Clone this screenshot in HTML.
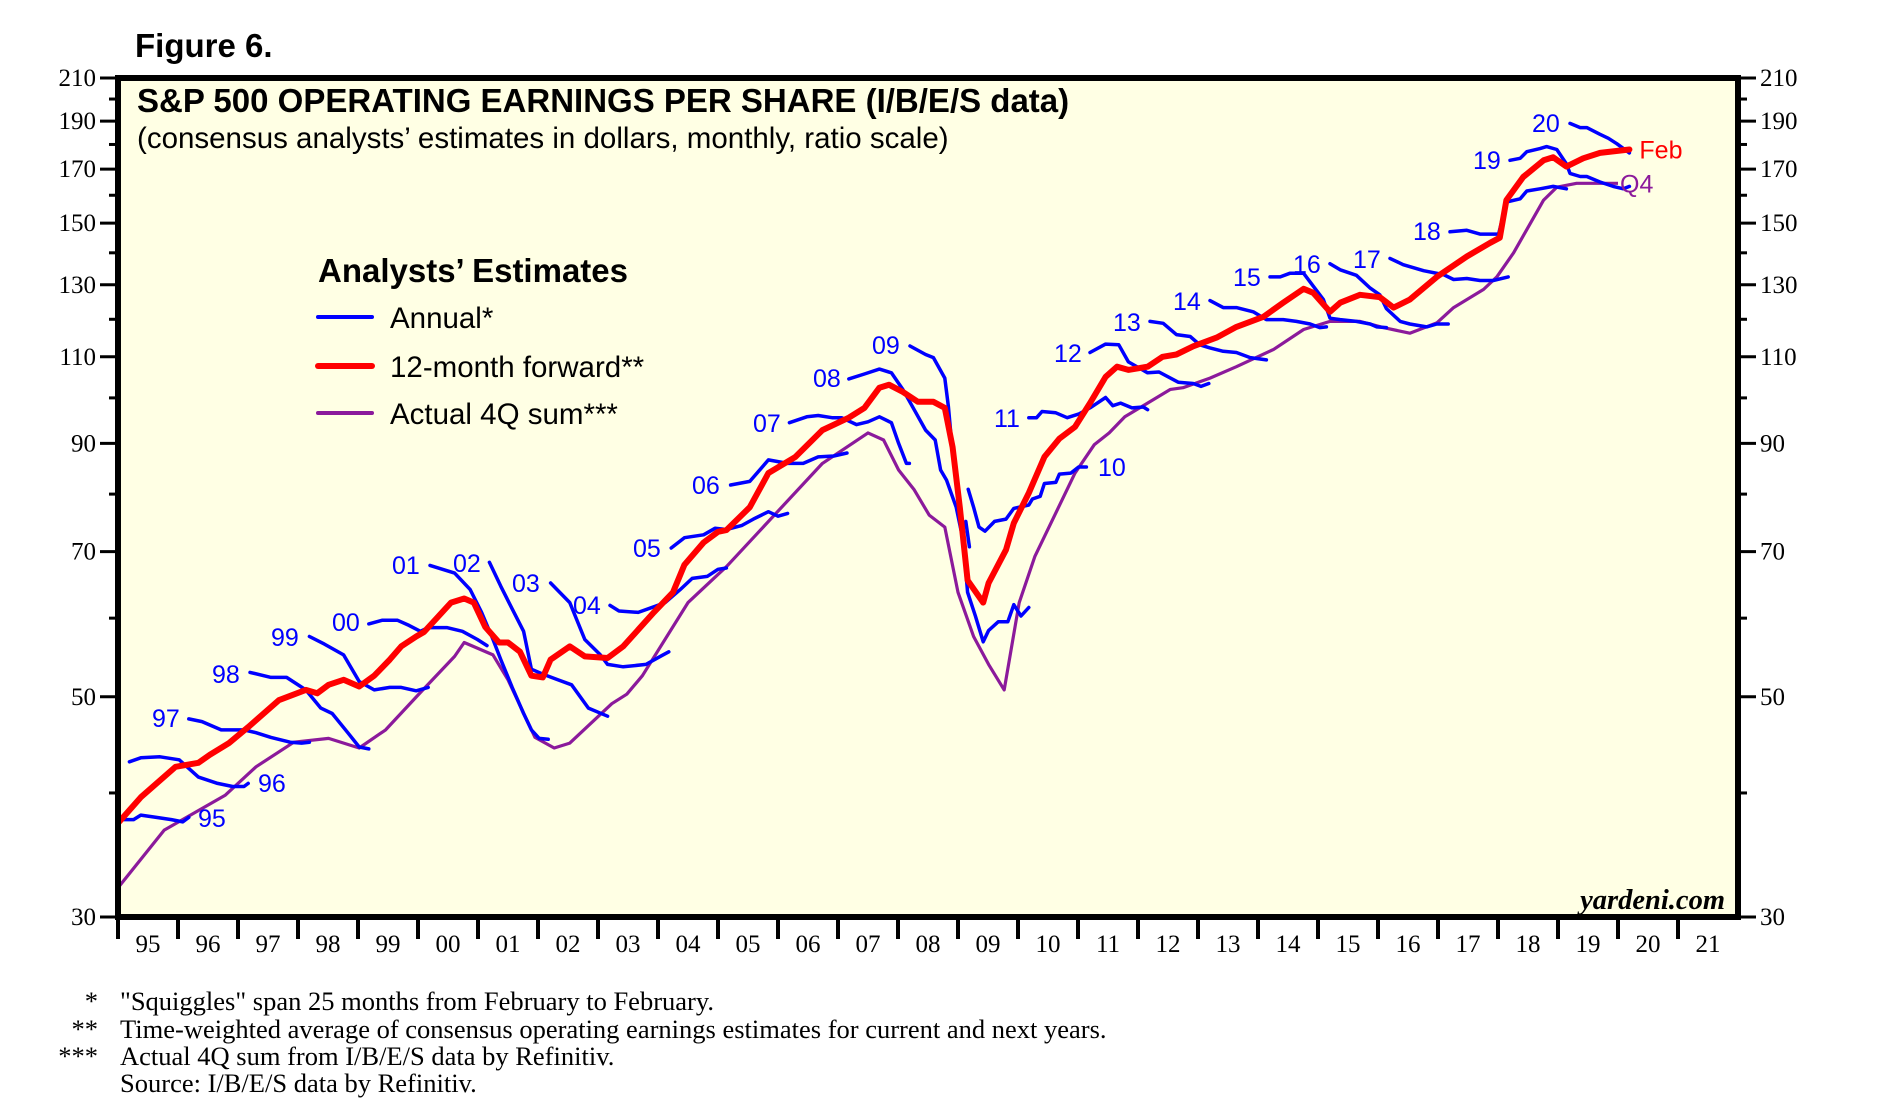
<!DOCTYPE html>
<html><head><meta charset="utf-8"><style>
html,body{margin:0;padding:0;background:#fff;}
svg{display:block;}
.ax{font-family:"Liberation Serif",serif;font-size:25px;fill:#000;}
.sq{font-family:"Liberation Sans",sans-serif;font-size:25px;fill:#0000ff;}
</style></head><body>
<svg id="chart" width="1888" height="1111" viewBox="0 0 1888 1111" xmlns="http://www.w3.org/2000/svg">
<text x="135" y="57" font-family="Liberation Sans,sans-serif" font-weight="bold" font-size="33">Figure 6.</text>
<rect x="118" y="78" width="1620" height="839" fill="#ffffe4"/>
<g id="marks"></g>
<rect x="118" y="78" width="1620" height="839" fill="none" stroke="#000" stroke-width="6"/>
<g id="axes"></g>
<text x="137" y="112" font-family="Liberation Sans,sans-serif" font-weight="bold" font-size="33">S&amp;P 500 OPERATING EARNINGS PER SHARE (I/B/E/S data)</text>
<text x="137" y="148" font-family="Liberation Sans,sans-serif" font-size="29.5">(consensus analysts’ estimates in dollars, monthly, ratio scale)</text>
<g font-family="Liberation Sans,sans-serif">
<text x="318" y="282" font-weight="bold" font-size="33">Analysts’ Estimates</text>
<line x1="318" y1="317" x2="372" y2="317" stroke="#0000ff" stroke-width="4" stroke-linecap="round"/>
<text x="390" y="328" font-size="29.5">Annual*</text>
<line x1="318" y1="366" x2="372" y2="366" stroke="#ff0000" stroke-width="6" stroke-linecap="round"/>
<text x="390" y="377" font-size="29.5">12-month forward**</text>
<line x1="318" y1="413" x2="372" y2="413" stroke="#8b1a9b" stroke-width="4" stroke-linecap="round"/>
<text x="390" y="424" font-size="29.5">Actual 4Q sum***</text>
</g>
<text x="1725" y="909" text-anchor="end" font-family="Liberation Serif,serif" font-weight="bold" font-style="italic" font-size="28.5">yardeni.com</text>
<g font-family="Liberation Serif,serif" font-size="26.5">
<text x="98" y="1010" text-anchor="end">*</text>
<text x="120" y="1010">"Squiggles" span 25 months from February to February.</text>
<text x="98" y="1038" text-anchor="end">**</text>
<text x="120" y="1038">Time-weighted average of consensus operating earnings estimates for current and next years.</text>
<text x="98" y="1065" text-anchor="end">***</text>
<text x="120" y="1065">Actual 4Q sum from I/B/E/S data by Refinitiv.</text>
<text x="120" y="1092">Source: I/B/E/S data by Refinitiv.</text>
</g>
</svg>
<script>
const yTicks=[30,50,70,90,110,130,150,170,190,210];
const yMinor=[40,60,80,100,120,140,160,180,200];
const yearLabels=["95","96","97","98","99","00","01","02","03","04","05","06","07","08","09","10","11","12","13","14","15","16","17","18","19","20","21"];
const forward=[[1995.0,37.3],[1995.38,39.6],[1995.96,42.5],[1996.34,42.9],[1996.53,43.7],[1996.85,44.9],[1997.17,46.6],[1997.68,49.6],[1998.13,50.8],[1998.32,50.4],[1998.51,51.4],[1998.76,52.0],[1999.02,51.2],[1999.27,52.5],[1999.53,54.5],[1999.72,56.2],[1999.97,57.5],[2000.1,58.1],[2000.29,59.8],[2000.55,62.2],[2000.77,62.8],[2000.93,62.2],[2001.12,58.8],[2001.35,56.7],[2001.5,56.7],[2001.7,55.5],[2001.89,52.5],[2002.08,52.3],[2002.21,54.5],[2002.53,56.2],[2002.78,54.9],[2003.16,54.7],[2003.42,56.2],[2003.93,60.8],[2004.25,63.7],[2004.44,67.9],[2004.76,71.5],[2005.0,73.3],[2005.14,73.6],[2005.53,77.6],[2005.84,84.0],[2006.29,87.2],[2006.74,92.8],[2007.18,95.5],[2007.44,97.7],[2007.69,102.4],[2007.85,103.1],[2008.08,101.4],[2008.33,99.1],[2008.59,99.1],[2008.78,97.7],[2008.91,89.2],[2009.03,77.6],[2009.16,65.5],[2009.42,62.2],[2009.51,65.1],[2009.8,70.3],[2009.93,74.8],[2010.18,80.2],[2010.44,87.2],[2010.69,91],[2010.95,93.5],[2011.2,98.8],[2011.46,105],[2011.65,107.5],[2011.84,106.7],[2012.16,107.5],[2012.41,110],[2012.64,110.6],[2012.92,112.7],[2013.31,115],[2013.64,117.9],[2014.09,120.7],[2014.42,124.7],[2014.76,128.8],[2014.92,127.6],[2015.2,122.1],[2015.37,124.7],[2015.7,127],[2016.03,126.3],[2016.26,123.3],[2016.53,125.6],[2016.98,132.4],[2017.48,138.8],[2017.87,143.3],[2018.03,145],[2018.14,158.2],[2018.42,166.9],[2018.76,173.5],[2018.92,174.7],[2019.14,171],[2019.42,174.3],[2019.7,176.5],[2020.19,177.9]];
const actual=[[1995.0,32.1],[1995.77,36.7],[1996.79,39.8],[1997.30,42.5],[1997.93,45.0],[1998.51,45.4],[1999.02,44.4],[1999.46,46.3],[2000.04,50.5],[2000.61,54.9],[2000.77,56.7],[2001.25,55.1],[2001.5,52.0],[2001.95,45.5],[2002.27,44.4],[2002.53,44.9],[2003.23,49.2],[2003.48,50.3],[2003.74,52.5],[2004.5,62.2],[2005.0,66.4],[2005.14,67.6],[2006.74,85.9],[2007.5,92.2],[2007.76,90.7],[2008.01,84.6],[2008.27,80.8],[2008.52,76.2],[2008.78,74.1],[2009.0,63.7],[2009.26,57.5],[2009.51,53.9],[2009.77,50.8],[2010.02,62.2],[2010.28,69.2],[2010.95,84],[2011.27,89.7],[2011.52,92.2],[2011.78,95.7],[2012.54,102],[2012.75,102.4],[2013.2,104.7],[2013.64,107.5],[2014.26,111.9],[2014.76,117.2],[2015.2,119.4],[2015.7,119.4],[2016.09,117.7],[2016.53,116.2],[2016.98,119],[2017.26,123.3],[2017.76,128.6],[2017.98,132.4],[2018.26,140],[2018.76,158.2],[2018.98,163],[2019.31,164.5],[2019.7,164.5],[2020.0,164.5]];
const sq95=[[1995.0,37.6],[1995.26,37.6],[1995.38,38],[1995.64,37.8],[1995.89,37.6],[1996.08,37.4],[1996.18,37.8]];
const sq96=[[1995.19,43],[1995.38,43.4],[1995.7,43.5],[1996.02,43.2],[1996.34,41.5],[1996.66,40.9],[1996.91,40.6],[1997.1,40.6],[1997.17,40.9]];
const sq97=[[1996.18,47.5],[1996.4,47.2],[1996.72,46.3],[1997.1,46.3],[1997.3,46],[1997.55,45.5],[1997.87,45],[1998.06,44.9],[1998.19,45]];
const sq98=[[1997.2,52.9],[1997.55,52.3],[1997.81,52.3],[1998.13,50.8],[1998.38,48.7],[1998.57,48.1],[1998.83,46],[1999.02,44.5],[1999.18,44.3]];
const sq99=[[1998.19,57.5],[1998.44,56.5],[1998.76,55.1],[1999.02,51.8],[1999.27,50.8],[1999.53,51.1],[1999.72,51.1],[1999.97,50.7],[2000.17,51.1]];
const sq00=[[1999.18,59.2],[1999.4,59.7],[1999.66,59.7],[1999.85,59],[2000.04,58.2],[2000.17,58.7],[2000.48,58.7],[2000.74,58.2],[2000.99,57.1],[2001.15,56.3]];
const sq01=[[2000.2,67.8],[2000.61,66.6],[2000.87,64.1],[2001.06,60.8],[2001.25,57.1],[2001.38,54.5],[2001.57,51.1],[2001.76,48.1],[2001.89,46.3],[2002.02,45.4],[2002.17,45.3]];
const sq02=[[2001.19,68.3],[2001.38,64.6],[2001.57,61.3],[2001.76,58.2],[2001.89,53.3],[2002.08,52.7],[2002.33,52],[2002.56,51.4],[2002.84,48.7],[2003.16,47.8]];
const sq03=[[2002.21,65.1],[2002.53,62.2],[2002.78,57.1],[2003.04,55.1],[2003.16,53.9],[2003.42,53.6],[2003.8,53.9],[2004.06,55],[2004.18,55.5]];
const sq04=[[2003.2,61.8],[2003.35,61],[2003.67,60.8],[2003.93,61.6],[2004.12,62.2],[2004.37,64.1],[2004.57,65.8],[2004.82,66.1],[2005.0,67.2],[2005.14,67.4]];
const sq05=[[2004.22,70.6],[2004.44,72.3],[2004.76,72.8],[2004.95,73.9],[2005.14,73.7],[2005.4,74.4],[2005.59,75.5],[2005.84,76.8],[2006.0,76],[2006.16,76.5]];
const sq06=[[2005.21,81.7],[2005.53,82.4],[2005.84,86.6],[2006.16,85.9],[2006.42,85.9],[2006.67,87.2],[2006.93,87.4],[2007.15,88]];
const sq07=[[2006.19,94.4],[2006.48,95.7],[2006.67,96],[2006.9,95.5],[2007.06,95.5],[2007.31,94],[2007.5,94.6],[2007.69,95.7],[2007.89,94.4],[2008.01,90],[2008.14,85.9],[2008.19,85.9]];
const sq08=[[2007.18,104.5],[2007.44,105.7],[2007.69,106.9],[2007.89,106],[2008.08,102],[2008.27,97.3],[2008.46,92.8],[2008.62,90.7],[2008.71,84.6],[2008.81,82.6],[2008.97,77.6],[2009.05,73.6],[2009.13,75.1],[2009.19,70.8]];
const sq09=[[2008.2,112.8],[2008.46,110.6],[2008.59,109.8],[2008.78,104.7],[2008.84,98],[2008.91,88],[2009.03,78.5],[2009.16,63.7],[2009.29,60.3],[2009.42,56.8],[2009.51,58.3],[2009.67,59.5],[2009.83,59.5],[2009.93,61.9],[2010.05,60.3],[2010.18,61.5]];
const sq10=[[2009.17,80.9],[2009.26,77.6],[2009.35,74.1],[2009.45,73.4],[2009.61,75.1],[2009.8,75.5],[2009.93,77.4],[2010.18,78],[2010.24,79.1],[2010.37,79.6],[2010.44,82],[2010.63,82.2],[2010.69,83.8],[2010.88,84],[2011.01,85.2],[2011.14,85.2]];
const sq11=[[2010.18,95.5],[2010.31,95.5],[2010.4,96.9],[2010.63,96.6],[2010.82,95.5],[2011.01,96.3],[2011.2,97.7],[2011.46,100.1],[2011.58,98.2],[2011.71,98.8],[2011.9,97.7],[2012.09,97.9],[2012.16,97.3]];
const sq12=[[2011.2,111.1],[2011.46,113.3],[2011.68,113.1],[2011.84,108.7],[2012.16,106],[2012.35,106.2],[2012.67,103.7],[2012.92,103.4],[2013.05,102.7],[2013.18,103.4]];
const sq13=[[2012.2,119.4],[2012.42,118.9],[2012.64,115.8],[2012.87,115.3],[2013.03,113.1],[2013.2,112.3],[2013.42,111.4],[2013.64,111.1],[2013.87,109.8],[2014.14,109.2]];
const sq14=[[2013.2,125.3],[2013.42,123.3],[2013.64,123.3],[2013.92,122.1],[2014.14,119.9],[2014.42,119.9],[2014.64,119.4],[2014.87,118.7],[2015.03,117.7],[2015.14,117.9]];
const sq15=[[2014.2,132.4],[2014.37,132.4],[2014.53,133.5],[2014.76,133.5],[2014.92,129.6],[2015.09,125.6],[2015.2,120.3],[2015.37,119.9],[2015.64,119.4],[2015.87,118.7],[2015.98,117.9],[2016.14,117.7]];
const sq16=[[2015.2,136.5],[2015.37,134.6],[2015.64,132.9],[2015.87,129],[2016.03,127],[2016.14,123],[2016.37,119.4],[2016.53,118.7],[2016.81,117.9],[2016.98,118.7],[2017.17,118.7]];
const sq17=[[2016.2,138.2],[2016.42,136.2],[2016.76,134.3],[2017.09,133.1],[2017.26,131.6],[2017.48,131.9],[2017.7,131.3],[2017.92,131.3],[2018.17,132.4]];
const sq18=[[2017.2,147],[2017.48,147.5],[2017.7,146.2],[2018.01,146.2],[2018.14,157.5],[2018.37,158.7],[2018.48,161.6],[2018.7,162.4],[2018.92,163.3],[2019.14,162.4]];
const sq19=[[2018.2,173.5],[2018.37,174.3],[2018.48,177],[2018.7,178.3],[2018.81,179.1],[2018.98,177.9],[2019.14,172.1],[2019.2,168.3],[2019.37,167.1],[2019.48,167.1],[2019.7,165],[2019.92,163.3],[2020.09,162.4],[2020.19,163.3]];
const sq20=[[2019.2,189],[2019.37,187.2],[2019.48,187.2],[2019.7,184.3],[2019.84,182.6],[2019.98,180.3],[2020.19,176.5]];
const squiggles=[sq95,sq96,sq97,sq98,sq99,sq00,sq01,sq02,sq03,sq04,sq05,sq06,sq07,sq08,sq09,sq10,sq11,sq12,sq13,sq14,sq15,sq16,sq17,sq18,sq19,sq20];
const squiggleNames=["95","96","97","98","99","00","01","02","03","04","05","06","07","08","09","10","11","12","13","14","15","16","17","18","19","20"];
const labelPos=[[198,818],[258,783],[152,718],[212,674],[271,637],[332,622],[392,565],[453,563],[512,583],[573,605],[633,548],[692,485],[753,423],[813,378],[872,345],[1098,467],[994,418],[1054,353],[1113,322],[1173,301],[1233,277],[1293,264],[1353,259],[1413,231],[1473,160],[1532,123]];

const NS="http://www.w3.org/2000/svg";
const L=118,R=1738,T=78,B=917;
function X(t){return L+(t-1995)*60;}
function Y(v){return B-Math.log(v/30)/Math.log(7)*(B-T);}
function mk(tag,attrs,parent){const e=document.createElementNS(NS,tag);for(const k in attrs)e.setAttribute(k,attrs[k]);parent.appendChild(e);return e;}
const marks=document.getElementById('marks');
const axes=document.getElementById('axes');
function pathD(arr){return arr.map((p,i)=>(i?'L':'M')+X(p[0]).toFixed(1)+' '+Y(p[1]).toFixed(1)).join(' ');}

yTicks.forEach(v=>{
  const y=Y(v);
  const a=mk('line',{x1:L-18,y1:y,x2:L,y2:y,stroke:'#000','stroke-width':3},axes);
  
  
  const b=mk('line',{x1:R,y1:y,x2:R+18,y2:y,stroke:'#000','stroke-width':3},axes);
  
  
  const t1=mk('text',{x:L-22,y:y+8,'text-anchor':'end','class':'ax'},axes);t1.textContent=v;
  
  
  const t2=mk('text',{x:R+22,y:y+8,'class':'ax'},axes);t2.textContent=v;
  
  
});
yMinor.forEach(v=>{
  const y=Y(v);
  const a=mk('line',{x1:L-9,y1:y,x2:L,y2:y,stroke:'#000','stroke-width':3},axes);
  
  
  const b=mk('line',{x1:R,y1:y,x2:R+9,y2:y,stroke:'#000','stroke-width':3},axes);
  
  
});
yearLabels.forEach((lab,i)=>{
  const x=X(1995+i);
  const tk=mk('line',{x1:x,y1:B,x2:x,y2:B+22,stroke:'#000','stroke-width':4},axes);
  
  
  const t=mk('text',{x:x+30,y:B+35,'text-anchor':'middle','class':'ax'},axes);t.textContent=lab;
  
  
});

const gPlot=mk('g',{},marks);


const pa=mk('path',{d:pathD(actual),fill:'none',stroke:'#8b1a9b','stroke-width':3.2,'stroke-linejoin':'round'},gPlot);


squiggles.forEach((s,i)=>{
  const p=mk('path',{d:pathD(s),fill:'none',stroke:'#0000ff','stroke-width':3.5,'stroke-linejoin':'round','stroke-linecap':'round'},gPlot);
  
  
  const t=mk('text',{x:labelPos[i][0],y:labelPos[i][1]+9,'class':'sq'},gPlot);t.textContent=squiggleNames[i];
  
  
});
const pf=mk('path',{d:pathD(forward),fill:'none',stroke:'#ff0000','stroke-width':6,'stroke-linejoin':'round','stroke-linecap':'round'},gPlot);


const last=forward[forward.length-1];
const fl=mk('text',{x:X(last[0])+10,y:Y(last[1])+9,'class':'sq',style:'fill:#ff0000'},gPlot);fl.textContent='Feb';


const lastA=actual[actual.length-1];
const al=mk('text',{x:X(lastA[0])+2,y:Y(lastA[1])+9,'class':'sq',style:'fill:#8b1a9b'},gPlot);al.textContent='Q4';


</script>
</body></html>
